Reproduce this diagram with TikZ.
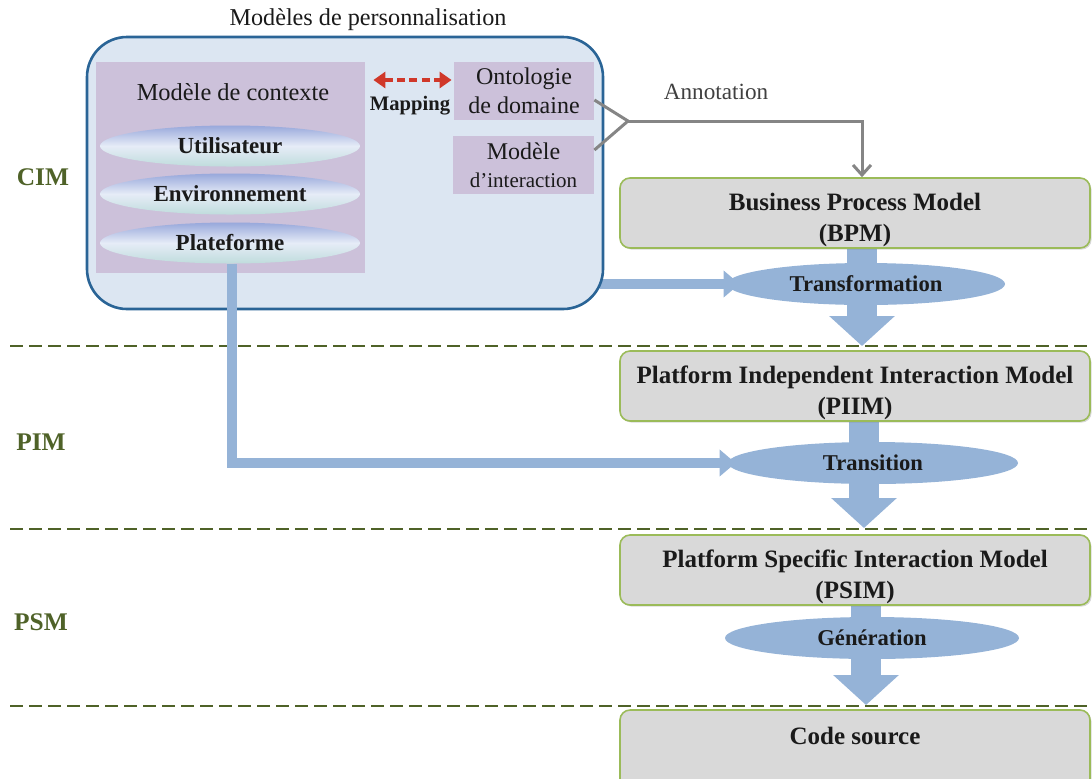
\documentclass[tikz,border=0pt]{standalone}
\usepackage{fontspec}
\setmainfont{Liberation Serif}
\usetikzlibrary{arrows.meta,shapes.geometric,shadows,calc}
\pgfdeclarelayer{flows}
\pgfsetlayers{flows,main}

\definecolor{outerfill}{HTML}{DCE6F2}
\definecolor{outerdraw}{HTML}{2A6496}
\definecolor{lavender}{HTML}{CCC1DA}
\definecolor{boxgray}{HTML}{D9D9D9}
\definecolor{boxgreen}{HTML}{9BBB59}
\definecolor{flowblue}{HTML}{95B3D7}
\definecolor{levelgreen}{HTML}{4F6228}
\definecolor{mapred}{HTML}{D0382A}
\definecolor{annogray}{HTML}{858585}
\definecolor{inkdark}{HTML}{1A1A1A}
\definecolor{ellTop}{HTML}{98A8DB}
\definecolor{ellMid}{HTML}{E6ECF7}
\definecolor{ellBot}{HTML}{BFDCDC}

\tikzset{
  outerbox/.style={draw=outerdraw, line width=1.3pt, fill=outerfill, rounded corners=20pt, inner sep=0pt},
  lavbox/.style={fill=lavender, inner sep=0pt},
  layerell/.style={ellipse, minimum width=130pt, minimum height=20.5pt, inner sep=0pt,
    top color=ellTop, bottom color=ellBot, middle color=ellMid,
    font=\fontsize{11.5}{13}\selectfont\bfseries, text=inkdark},
  smalltext/.style={font=\fontsize{12}{15}\selectfont, text=inkdark, align=center},
  modelbox/.style={draw=boxgreen, line width=0.8pt, fill=boxgray, rounded corners=5pt,
    minimum width=235pt, minimum height=35pt, inner sep=0pt,
    drop shadow={opacity=0.3, shadow xshift=0.8pt, shadow yshift=-0.8pt}},
  boxtext/.style={font=\fontsize{12.5}{15.5}\selectfont\bfseries, align=center, text=inkdark, inner sep=0pt},
  stepell/.style={ellipse, fill=flowblue, minimum height=21pt, inner sep=0pt,
    font=\fontsize{11.3}{13}\selectfont\bfseries, text=inkdark},
  levelname/.style={font=\fontsize{12.7}{14}\selectfont\bfseries, text=levelgreen},
  levelline/.style={draw=levelgreen, line width=1.2pt, dash pattern=on 6.5pt off 3pt},
  blockflow/.style={draw=flowblue, line width=15pt, -{Triangle[width=32pt,length=15pt]}},
  sideflow/.style={draw=flowblue, line width=4.8pt, -{Triangle[width=13pt,length=8pt]}},
  annoline/.style={draw=annogray, line width=1.5pt},
  maparrow/.style={draw=mapred, line width=1.6pt, dash pattern=on 4pt off 2.2pt,
    {Triangle[width=8pt,length=6pt]}-{Triangle[width=8pt,length=6pt]}}
}

\begin{document}
\begin{tikzpicture}[x=0.5pt,y=-0.5pt]
\useasboundingbox (0,0) rectangle (1092,778);

% --- level separators and names
\draw[levelline] (10,346) -- (1092,346);
\draw[levelline] (10,529) -- (1092,529);
\draw[levelline] (10,706) -- (1092,706);
\node[levelname] (cim) at (43,177) {CIM};
\node[levelname] (pim) at (41,442) {PIM};
\node[levelname] (psm) at (41,622) {PSM};

% --- personalisation models
\node[font=\fontsize{12.1}{14}\selectfont, text=inkdark] (title) at (368,20) {Modèles de personnalisation};
\node[outerbox, minimum width=258pt, minimum height=136pt] (outer) at (345,173) {};
\node[lavbox, minimum width=134.5pt, minimum height=105.5pt] (ctx) at (230.5,167.5) {};
\node[smalltext, font=\fontsize{12.2}{14}\selectfont] (ctxlabel) at (233,92) {Modèle de contexte};
\node[layerell] (user) at (230,146) {Utilisateur};
\node[layerell] (env) at (230,194) {Environnement};
\node[layerell] (plat) at (230,243) {Plateforme};

\node[lavbox, minimum width=70pt, minimum height=29pt, smalltext] (onto) at (524,91)
  {Ontologie\\[-0.5pt]de domaine};
\node[lavbox, minimum width=70.5pt, minimum height=29pt, smalltext] (inter) at (523.5,165)
  {Modèle\\[-1pt]{\fontsize{10.5}{12}\selectfont d’interaction}};

\draw[maparrow] ([xshift=4pt]ctx.east |- 0,80) -- ([xshift=-1pt]onto.west |- 0,80);
\node[font=\fontsize{10.3}{12}\selectfont\bfseries, text=inkdark] (maplabel) at (410,106) {Mapping};

% --- MDA chain
\node[modelbox] (bpm) at (855,213) {};
\node[modelbox] (piim) at (855,386) {};
\node[modelbox] (psim) at (855,570) {};
\node[modelbox, minimum height=40pt] (code) at (855,750) {};
\node[boxtext] (bpmtext) at ([yshift=-3.5pt]bpm.center) {Business Process Model\\(BPM)};
\node[boxtext] (piimtext) at ([yshift=-3.5pt]piim.center) {Platform Independent Interaction Model\\(PIIM)};
\node[boxtext] (psimtext) at ([yshift=-3.5pt]psim.center) {Platform Specific Interaction Model\\(PSIM)};
\node[boxtext] (codetext) at (855,736) {Code source};

\node[stepell, minimum width=139pt] (transf) at (866,284) {Transformation};
\node[stepell, minimum width=145pt] (transi) at (873,463) {Transition};
\node[stepell, minimum width=147pt] (gener) at (872,638) {Génération};

% --- annotation link
\coordinate (join) at (628,121);
\node[font=\fontsize{11.6}{14}\selectfont, text=black!75] (anno) at (716,92) {Annotation};
\draw[annoline] ([yshift=-4.5pt]onto.east) -- (join);
\draw[annoline] ([yshift=7.5pt]inter.east) -- (join);
\draw[annoline, -{Straight Barb[length=5pt,width=9pt]}] (join) -- (862,121) -- (bpm.north -| 862,0);

% --- flows
\begin{pgfonlayer}{flows}
  \coordinate (cut1) at (862,346);
  \coordinate (cut2) at (864,528);
  \coordinate (cut3) at (866,705);
  \draw[blockflow] (bpm.south -| cut1) -- (cut1);
  \draw[blockflow] (piim.south -| cut2) -- (cut2);
  \draw[blockflow] (psim.south -| cut3) -- (cut3);
  \draw[sideflow] ([xshift=-2pt]outer.east |- transf) -- ([xshift=6.5pt]transf.west);
\end{pgfonlayer}
\draw[sideflow] (plat.south -| 232,0) -- (232,463) -- ([xshift=4pt]transi.west);

\end{tikzpicture}
\end{document}
